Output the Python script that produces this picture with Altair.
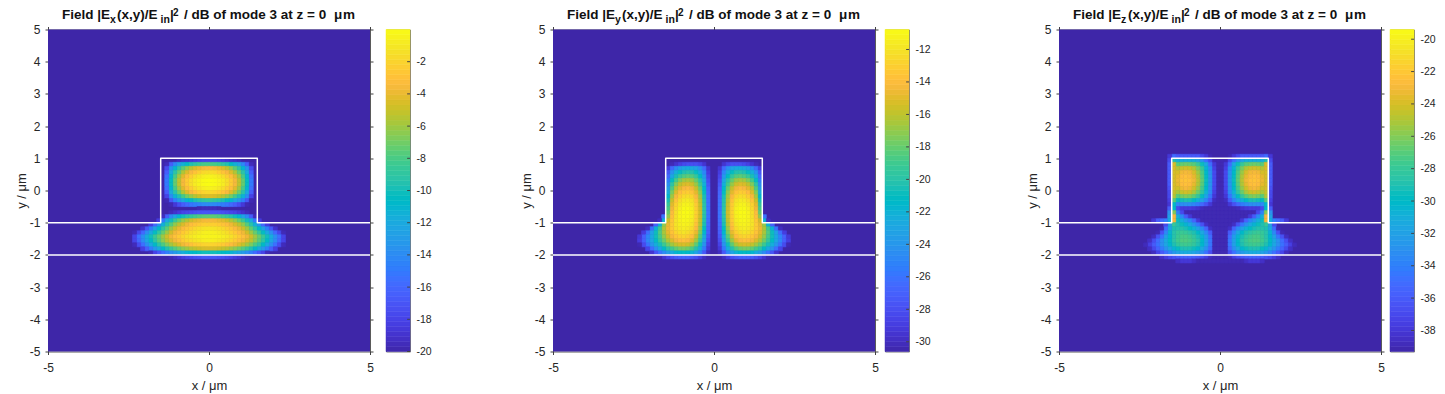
import altair as alt
import pandas as pd
import numpy as np

PARULA_RGB = [(.2422,.1504,.6603),(.2504,.1650,.7076),(.2578,.1818,.7511),(.2647,.1978,.7952),(.2706,.2147,.8364),(.2751,.2342,.8710),(.2783,.2559,.8991),(.2803,.2782,.9221),(.2813,.3006,.9414),(.2810,.3228,.9579),(.2795,.3447,.9717),(.2760,.3667,.9829),(.2699,.3892,.9906),(.2602,.4123,.9952),(.2440,.4358,.9988),(.2206,.4603,.9973),(.1963,.4847,.9892),(.1834,.5074,.9798),(.1786,.5289,.9682),(.1764,.5499,.9520),(.1687,.5703,.9359),(.1540,.5902,.9218),(.1460,.6091,.9079),(.1380,.6276,.8973),(.1248,.6459,.8883),(.1113,.6635,.8763),(.0952,.6798,.8598),(.0689,.6948,.8394),(.0297,.7082,.8163),(.0036,.7203,.7917),(.0067,.7312,.7660),(.0433,.7411,.7394),(.0964,.7500,.7120),(.1408,.7584,.6842),(.1717,.7670,.6554),(.1938,.7758,.6251),(.2161,.7843,.5923),(.2470,.7918,.5567),(.2906,.7973,.5188),(.3406,.8008,.4789),(.3909,.8029,.4354),(.4456,.8024,.3909),(.5044,.7993,.3480),(.5616,.7942,.3045),(.6174,.7876,.2612),(.6720,.7793,.2227),(.7242,.7698,.1910),(.7738,.7598,.1646),(.8203,.7498,.1535),(.8634,.7406,.1596),(.9035,.7330,.1774),(.9393,.7288,.2100),(.9728,.7298,.2394),(.9956,.7434,.2371),(.9970,.7659,.2199),(.9952,.7893,.2028),(.9892,.8136,.1885),(.9786,.8386,.1766),(.9676,.8639,.1643),(.9610,.8890,.1537),(.9597,.9135,.1423),(.9628,.9373,.1265),(.9691,.9606,.1064),(.9769,.9839,.0805)]
PARULA = ["#%02x%02x%02x" % tuple(int(round(c*255)) for c in rgb) for rgb in PARULA_RGB]
STEP = 0.125
TOP = 1.125
EX = [
[],
[-18,-18,-18.2,-18.5,-18.8,-19,-19.2,-19.5],
[-8,-8.1,-8.4,-9,-9.6,-10.4,-11.4,-12.6,-14.2,-16.5,-19.5],
[-3.4,-3.6,-4,-4.5,-5.3,-6.3,-7.5,-9,-11,-13.5,-17.5],
[-1.6,-1.8,-2.2,-2.8,-3.5,-4.4,-5.6,-7.2,-9.2,-12,-16.5],
[-.5,-.7,-1,-1.5,-2.2,-3.1,-4.3,-5.9,-8,-11,-15.5],
[0,-.1,-.4,-.8,-1.5,-2.4,-3.6,-5.2,-7.3,-10.3,-15],
[0,-.1,-.4,-.8,-1.5,-2.4,-3.6,-5.2,-7.3,-10.3,-15],
[-.5,-.7,-1,-1.5,-2.2,-3.1,-4.3,-5.9,-8,-11,-15.5],
[-1.8,-2,-2.3,-2.8,-3.5,-4.4,-5.6,-7.2,-9.2,-12,-16.5],
[-4.4,-4.6,-5,-5.5,-6.2,-7,-8.2,-9.6,-11.3,-13.8,-18],
[-8.8,-9,-9.3,-9.7,-10.3,-11,-12,-13,-14.6,-16.8,-19.7],
[-14,-14.1,-14.4,-14.8,-15.2,-15.8,-16.5,-17.4,-18.6,-19.7],
[-19.5,-19.5,-19.7],
[-17,-17,-17,-17.2,-17.5,-17.8,-18,-18.5,-19,-19.5],
[-7.5,-7.6,-7.8,-8.2,-8.7,-9.3,-10,-11,-12.3,-14,-16.5,-19.5],
[-3.6,-3.7,-4,-4.3,-4.8,-5.5,-6.2,-7.2,-8.4,-10,-12,-15,-18.5],
[-2.2,-2.3,-2.5,-2.8,-3.2,-3.8,-4.5,-5.3,-6.3,-7.7,-9.3,-11.5,-13.5,-16,-18.5],
[-1.2,-1.3,-1.5,-1.8,-2.2,-2.7,-3.3,-4,-4.9,-6,-7.5,-9,-10.8,-12.6,-14.6,-16.8,-19],
[-.6,-.7,-.9,-1.2,-1.5,-2,-2.5,-3.1,-3.8,-4.8,-6,-7.3,-8.8,-10.3,-12,-13.8,-15.8,-17.7,-19.6],
[-.4,-.4,-.5,-.7,-1,-1.4,-1.9,-2.4,-2.9,-3.8,-4.8,-6,-7.2,-8.5,-10,-11.8,-13.8,-15.5,-18],
[-.7,-.8,-1,-1.2,-1.5,-1.9,-2.4,-3,-3.7,-4.4,-5.3,-6.4,-7.6,-9,-10.5,-12.2,-14,-15.9,-18],
[-2,-2.1,-2.3,-2.5,-2.9,-3.3,-3.8,-4.4,-5.1,-5.9,-6.8,-7.9,-9.1,-10.5,-12,-13.7,-15.5,-17.5,-19.5],
[-4.5,-4.6,-4.8,-5.1,-5.4,-5.9,-6.4,-7,-7.7,-8.5,-9.5,-10.6,-11.8,-13.2,-14.7,-16.4,-18.2],
[-10,-10,-10.2,-10.5,-10.8,-11.2,-11.7,-12.3,-13,-13.8,-14.7,-15.7,-16.8,-18,-19.5],
[-17,-17,-17.2,-17.4,-17.7,-18,-18.4,-18.8,-19.3,-19.7],
[],
]
EY = [
[],
[],
[-30.6,-30.6,-29.5,-28.5,-28,-28,-28,-28.3,-28.8,-29.5,-30.2],
[-30.6,-29.5,-26.5,-24.5,-23.2,-22.7,-22.5,-22.8,-23.5,-24.7,-26.5,-29],
[-30.6,-29,-25,-22.6,-21,-20.2,-20,-20.3,-21,-22.3,-24.2,-27.5],
[-30.6,-28.5,-24,-21.2,-19.5,-18.5,-18.2,-18.5,-19.2,-20.5,-22.7,-26.5],
[-30.6,-28,-23,-20,-18,-16.8,-16.4,-16.6,-17.4,-18.8,-21,-25.5],
[-30.6,-27.5,-22.2,-19,-16.9,-15.6,-15.1,-15.3,-16,-17.4,-19.8,-24.5],
[-30.6,-27,-21.5,-18,-15.8,-14.5,-14,-14.2,-14.9,-16.2,-18.6,-23.5],
[-30.6,-26.7,-21,-17.2,-15,-13.6,-13.1,-13.2,-13.9,-15.2,-17.5,-22.5],
[-30.6,-26.4,-20.5,-16.6,-14.2,-12.8,-12.3,-12.4,-13,-14.3,-16.6,-21.5],
[-30.6,-26.2,-20.2,-16.2,-13.6,-12.1,-11.6,-11.7,-12.3,-13.5,-15.7,-20.5],
[-30.6,-26,-20,-15.8,-13.2,-11.7,-11.2,-11.2,-11.8,-12.9,-15,-19.5],
[-30.6,-26,-19.9,-15.6,-13,-11.4,-10.9,-10.9,-11.4,-12.5,-14.5,-18.8],
[-30.6,-26,-19.9,-15.5,-12.9,-11.3,-10.8,-10.8,-11.2,-12.2,-14,-18],
[-30.6,-26,-20,-15.6,-13,-11.4,-10.9,-10.9,-11.2,-12.1,-13.7,-17,-26],
[-30.6,-26.2,-20.2,-15.9,-13.2,-11.6,-11.1,-11,-11.3,-12,-13.4,-15.5,-22,-30],
[-30.6,-26.4,-20.5,-16.2,-13.6,-11.9,-11.3,-11.2,-11.4,-12,-13.2,-14.8,-17,-22,-27],
[-30.6,-26.7,-21,-16.8,-14.1,-12.4,-11.7,-11.5,-11.7,-12.2,-13.2,-14.6,-16.4,-19,-22,-26,-30],
[-30.6,-27,-21.7,-17.5,-14.8,-13,-12.3,-12,-12.2,-12.7,-13.6,-14.9,-16.5,-18.5,-20.8,-23.3,-26.2,-29],
[-30.6,-27.5,-22.5,-18.4,-15.7,-13.9,-13,-12.7,-12.9,-13.4,-14.3,-15.5,-17,-18.8,-20.7,-22.8,-25,-27,-29.3],
[-30.6,-28,-23.3,-19.4,-16.8,-15,-14.1,-13.7,-13.9,-14.4,-15.2,-16.4,-17.8,-19.4,-21.1,-23,-24.9,-27,-29],
[-30.6,-28.6,-24.3,-20.8,-18.2,-16.5,-15.6,-15.3,-15.4,-15.9,-16.7,-17.8,-19.1,-20.6,-22.3,-24,-26,-28.2,-30.3],
[-30.6,-29.2,-25.7,-22.6,-20.2,-18.6,-17.8,-17.5,-17.6,-18.1,-18.9,-19.9,-21.2,-22.7,-24.3,-26.2,-28.5],
[-30.6,-30,-27.5,-25,-23.2,-22,-21.4,-21.1,-21.3,-21.7,-22.5,-23.4,-24.6,-26,-27.6,-29.5],
[-30.6,-30.6,-30,-29,-28,-27.5,-27,-26.9,-27,-27.3,-27.9,-28.6,-29.5,-30.4],
[],
]
EZ = [
[-39.3,-39.3,-39,-38,-37,-36,-36,-36,-36,-36,-36,-35,-38],
[-39,-39,-37,-35,-33,-32,-31,-31,-31,-31,-31,-29,-37],
[-39,-38,-35,-31.5,-29.5,-28,-27,-26.7,-26.5,-26.7,-27,-24,-36],
[-39,-37.5,-33.5,-30.5,-28,-26.3,-25,-24.4,-24.2,-24.4,-25,-24,-36],
[-39,-37,-33,-30,-27.3,-25.5,-24,-23.2,-23,-23.2,-24,-24,-36],
[-39,-37,-32.8,-29.7,-27,-25,-23.5,-22.7,-22.4,-22.6,-23.5,-24,-36],
[-39,-37,-32.7,-29.5,-26.8,-24.8,-23.2,-22.4,-22.2,-22.4,-23.3,-24,-36],
[-39,-37,-32.8,-29.7,-27,-25,-23.5,-22.6,-22.4,-22.6,-23.5,-24,-36],
[-39,-37.2,-33,-30,-27.5,-25.6,-24.2,-23.3,-23,-23.3,-24.2,-24,-36.5],
[-39,-37.5,-33.5,-30.7,-28.3,-26.6,-25.2,-24.4,-24.1,-24.4,-25.2,-24.5,-37],
[-39,-38,-34.5,-31.8,-29.7,-28.2,-27,-26.3,-26,-26.3,-27,-25,-37],
[-39,-38.7,-36,-33.7,-32,-30.8,-29.8,-29.2,-29,-29.3,-29.8,-27,-37.5],
[-39,-39,-38,-36.5,-35.3,-34.3,-33.6,-33.2,-33,-33.2,-33.5,-30,-38],
[-39,-39,-39,-39,-38.8,-38.3,-38,-37.8,-37.8,-37.8,-37,-30,-36],
[-39,-39,-39,-39,-39,-39,-39,-39,-39,-37,-34,-26,-33],
[-39,-39,-39,-39,-39,-39,-39,-38,-36,-33.5,-31,-23,-32],
[-39,-39,-39,-39,-39,-38,-35.5,-33.7,-32.5,-31,-29.5,-23,-31,-34,-35,-36,-38],
[-39,-39,-39,-38.5,-36.5,-34.5,-33,-31.5,-30.5,-29.5,-29,-28,-32,-37],
[-39,-39,-38.5,-35.5,-33.5,-32,-30.7,-29.8,-29.2,-28.8,-28.8,-29,-31.5,-35,-39],
[-39,-39,-36,-33.5,-31.5,-30,-29,-28.5,-28,-27.8,-28,-28.7,-30.5,-33.5,-36.5,-39],
[-39,-39,-35,-32.3,-30.5,-29.2,-28.3,-27.7,-27.4,-27.4,-27.8,-28.7,-30.2,-32,-34.5,-36.5,-38.7],
[-39,-39,-34.5,-32,-30,-28.7,-27.9,-27.4,-27.2,-27.2,-27.6,-28.5,-29.8,-31.3,-33,-35,-36.7,-38.5],
[-39,-39,-34.5,-32,-30.2,-29,-28.2,-27.8,-27.6,-27.7,-28.1,-29,-30.2,-31.6,-33,-34.7,-36,-37.5,-38.8],
[-39,-39,-35.2,-33,-31.4,-30.2,-29.5,-29.1,-29,-29.1,-29.6,-30.5,-31.5,-32.8,-34.2,-35.5,-37,-38.5],
[-39,-39,-36.7,-34.8,-33.3,-32.4,-31.8,-31.4,-31.2,-31.4,-31.9,-32.6,-33.6,-34.8,-36,-37.2,-38.7],
[-39,-39,-38.7,-37.6,-36.8,-36.2,-35.8,-35.6,-35.6,-35.7,-36,-36.5,-37,-37.7,-38.5],
[-39,-39,-39,-39,-39,-39,-38.5,-38,-38,-38,-38.5],
]

def cells(rows, lo):
    out = []
    for r, row in enumerate(rows):
        for c, v in enumerate(row):
            if v <= lo:
                continue
            for s in (-1, 1):
                a, b = s*c*STEP, s*(c+1)*STEP
                out.append(dict(x=a, x2=b, y=TOP-r*STEP, y2=TOP-(r+1)*STEP, v=v))
    return pd.DataFrame(out)

LINE1_X = [-5,-1.5,-1.5,1.5,1.5,5]
LINE1_Y = [-1,-1,1,1,-1,-1]
LINE2_X = [-5,5]
LINE2_Y = [-2,-2]
TICKS = [-5,-4,-3,-2,-1,0,1,2,3,4,5]
XT = [-5,0,5]
FONT = "Liberation Sans"
TC = "#404040"
LC = "#262626"
HY = "'' + datum.value"

def panel(rows, dom, comp, sub):
    xs = alt.Scale(domain=[-5,5], nice=False)
    ys = alt.Scale(domain=[-5,5], nice=False)
    cs = alt.Scale(domain=list(np.linspace(dom[0],dom[1],len(PARULA))), range=PARULA, clamp=True)
    bg = alt.Chart(pd.DataFrame(dict(x=[-5],x2=[5],y=[-5],y2=[5],v=[dom[0]]))).mark_rect().encode(
        x=alt.X("x:Q",scale=xs,title="x / μm",axis=alt.Axis(values=XT,labelExpr=HY,labelFlush=False,tickSize=3,tickColor=TC,domain=False,grid=False,labelFont=FONT,labelFontSize=12,labelColor=LC,labelPadding=8,titleFont=FONT,titleFontSize=13,titleFontWeight="normal",titleColor=LC,titlePadding=6)),
        x2="x2:Q",
        y=alt.Y("y:Q",scale=ys,title="y / μm",axis=alt.Axis(values=TICKS,labelExpr=HY,labelFlush=False,tickSize=3,tickColor=TC,domain=False,grid=False,labelFont=FONT,labelFontSize=12,labelColor=LC,labelPadding=5,titleFont=FONT,titleFontSize=13,titleFontWeight="normal",titleColor=LC,titlePadding=1)),
        y2="y2:Q",
        color=alt.Color("v:Q",scale=cs,legend=None))
    heat = alt.Chart(cells(rows,dom[0])).mark_rect(strokeWidth=0.6).encode(
        x=alt.X("x:Q",scale=xs,axis=None),x2="x2:Q",y=alt.Y("y:Q",scale=ys,axis=None),y2="y2:Q",
        color=alt.Color("v:Q",scale=cs,legend=None),
        stroke=alt.Color("v:Q",scale=cs,legend=None))
    l1 = alt.Chart(pd.DataFrame(dict(x=LINE1_X,y=LINE1_Y,o=range(6)))).mark_line(color="white",strokeWidth=1.5,strokeJoin="round").encode(
        x=alt.X("x:Q",scale=xs,axis=None),y=alt.Y("y:Q",scale=ys,axis=None),order="o:Q")
    l2 = alt.Chart(pd.DataFrame(dict(x=LINE2_X,y=LINE2_Y))).mark_line(color="white",strokeWidth=1.5).encode(
        x=alt.X("x:Q",scale=xs,axis=None),y=alt.Y("y:Q",scale=ys,axis=None))
    mirror = alt.Chart(pd.DataFrame(dict(x=[0],y=[0]))).mark_point(opacity=0).encode(
        x=alt.X("x:Q",scale=xs,axis=alt.Axis(orient="top",values=XT,labels=False,title=None,tickSize=3,tickColor=TC,domain=False,grid=False)),
        y=alt.Y("y:Q",scale=ys,axis=alt.Axis(orient="right",values=TICKS,labels=False,title=None,tickSize=3,tickColor=TC,domain=False,grid=False)))
    parts = [("Field |E",14,18.5,13.5),(comp,62,22.5,10.5),("(x,y)/E",69,18.5,13.5),(sub,112.5,22.5,10.5),("|",122,18.5,13.5),("2",125,15.5,10),("/ dB of mode 3 at z = 0",136,18.5,13.5),("μ",286,18.5,13.5),("m",295,18.5,13.5)]
    texts = []
    for t,xx,yy,fs in parts:
        texts.append(alt.Chart(pd.DataFrame(dict(t=[t]))).mark_text(align="left",baseline="alphabetic",font=FONT,fontWeight="bold",fontSize=fs,color="#111111").encode(
            x=alt.value(xx),y=alt.value(yy-29),text="t:N"))
    return alt.layer(bg,heat,l1,l2,mirror,*texts).resolve_axis(x="independent",y="independent").properties(width=322,height=322,view=alt.ViewBackground(stroke="#5a5a5a",strokeWidth=1))

def cbar(dom, ticks):
    lv = np.linspace(dom[0],dom[1],65)
    d = pd.DataFrame(dict(y=lv[:-1],y2=lv[1:],v=(lv[:-1]+lv[1:])/2,x=0,x2=1))
    ys = alt.Scale(domain=list(dom),nice=False)
    xs = alt.Scale(domain=[0,1])
    cs = alt.Scale(domain=list(np.linspace(dom[0],dom[1],len(PARULA))), range=PARULA, clamp=True)
    bars = alt.Chart(d).mark_rect(strokeWidth=0.5).encode(
        x=alt.X("x:Q",scale=xs,axis=None),x2="x2:Q",
        y=alt.Y("y:Q",scale=ys,axis=alt.Axis(orient="right",values=ticks,labelExpr=HY,labelFlush=False,tickSize=0,domain=False,grid=False,title=None,labelFont=FONT,labelFontSize=10.5,labelColor=LC,labelPadding=6)),
        y2="y2:Q",color=alt.Color("v:Q",scale=cs,legend=None),stroke=alt.Color("v:Q",scale=cs,legend=None))
    t = alt.Chart(pd.DataFrame(dict(y=ticks,a=0.88,b=1.0))).mark_rule(color="#444444",strokeWidth=1).encode(
        x=alt.X("a:Q",scale=xs,axis=None),x2="b:Q",y=alt.Y("y:Q",scale=ys,axis=None))
    return alt.layer(bars,t).resolve_axis(y="independent").properties(width=24,height=322,view=alt.ViewBackground(stroke="#7a7a7a",strokeWidth=1))

def spacer(w):
    return alt.Chart(pd.DataFrame(dict(a=[0]))).mark_rule(opacity=0).encode(x=alt.value(0)).properties(width=w,height=322)

chart = alt.hconcat(
    panel(EX,(-20,0),"x","in"),spacer(16),cbar((-20,0),list(range(-20,0,2))),spacer(143),
    panel(EY,(-30.6,-10.77),"y","in"),spacer(10),cbar((-30.6,-10.77),list(range(-30,-10,2))),spacer(150),
    panel(EZ,(-39.3,-19.4),"z","in"),spacer(9),cbar((-39.3,-19.4),list(range(-38,-18,2))),
    spacing=0,bounds="flush"
).resolve_scale(x="independent",y="independent",color="independent",stroke="independent").configure_view(stroke="transparent").properties(padding=dict(left=6,top=-0.5,right=0,bottom=0))
chart.save("out.html", embed_options={"renderer": "svg", "actions": False})
